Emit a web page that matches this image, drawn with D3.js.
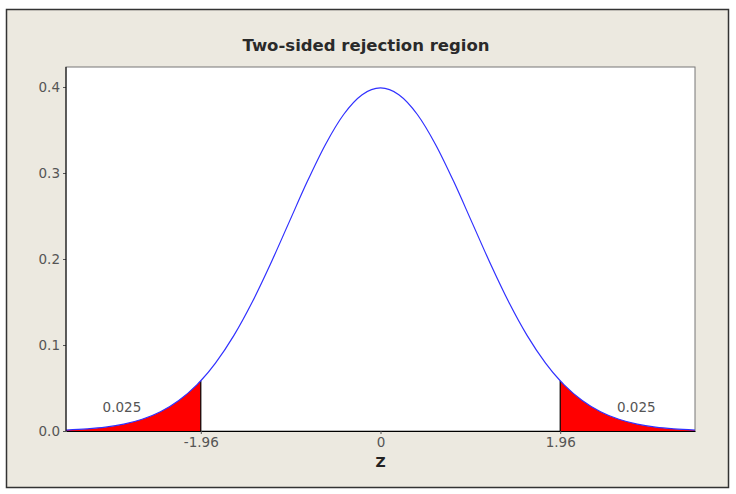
<!DOCTYPE html>
<html>
<head>
<meta charset="utf-8">
<script src="https://cdn.jsdelivr.net/npm/d3@7"></script>
<style>
  body { margin: 0; background: #fff; }
  text { font-family: "DejaVu Sans", sans-serif; }
</style>
</head>
<body>
<script>
// Curve values (z, density)
const zValues = [-3.43, -3.2, -3.0, -2.8, -2.6, -2.4, -2.2, -2.0, -1.96, -1.8, -1.6, -1.4, -1.2, -1.0, -0.8, -0.6, -0.4, -0.2, 0,
                 0.2, 0.4, 0.6, 0.8, 1.0, 1.2, 1.4, 1.6, 1.8, 1.96, 2.0, 2.2, 2.4, 2.6, 2.8, 3.0, 3.2, 3.43];
const densityValues = [0.0011, 0.0024, 0.0044, 0.0079, 0.0136, 0.0224, 0.0355, 0.0540, 0.0584, 0.0790, 0.1109, 0.1497, 0.1942, 0.2420, 0.2897, 0.3332, 0.3683, 0.3910, 0.3989,
                       0.3910, 0.3683, 0.3332, 0.2897, 0.2420, 0.1942, 0.1497, 0.1109, 0.0790, 0.0584, 0.0540, 0.0355, 0.0224, 0.0136, 0.0079, 0.0044, 0.0024, 0.0011];
const criticalValues = [-1.96, 1.96];
const xTickValues = [-1.96, 0, 1.96];
const xTickLabels = ["-1.96", "0", "1.96"];
const yTickValues = [0.0, 0.1, 0.2, 0.3, 0.4];
const tailLabels = [{ z: -2.82, y: 0.028, text: "0.025" }, { z: 2.79, y: 0.028, text: "0.025" }];

const width = 736, height = 494;
const plot = { left: 66, top: 67, right: 695, bottom: 431 };

const svg = d3.select("body").append("svg")
    .attr("width", width)
    .attr("height", height);

// Outer frame
svg.append("rect")
    .attr("x", 6.5).attr("y", 9.5)
    .attr("width", 722).attr("height", 478)
    .attr("fill", "#ece9e0")
    .attr("stroke", "#333")
    .attr("stroke-width", 1.5);

// Plot area
svg.append("rect")
    .attr("x", plot.left).attr("y", plot.top)
    .attr("width", plot.right - plot.left).attr("height", plot.bottom - plot.top)
    .attr("fill", "#fff")
    .attr("stroke", "#777")
    .attr("stroke-width", 1);

const x = d3.scaleLinear().domain([-3.43, 3.43]).range([plot.left, plot.right]);
const y = d3.scaleLinear().domain([0, 0.4]).range([plot.bottom, 87]);

const points = zValues.map((z, i) => ({ z: z, d: densityValues[i] }));

// Red tails
const area = d3.area()
    .x(d => x(d.z))
    .y0(y(0))
    .y1(d => y(d.d))
    .curve(d3.curveMonotoneX);

svg.append("path")
    .datum(points.filter(d => d.z <= criticalValues[0]))
    .attr("d", area)
    .attr("fill", "#ff0000");

svg.append("path")
    .datum(points.filter(d => d.z >= criticalValues[1]))
    .attr("d", area)
    .attr("fill", "#ff0000");

// Critical value lines
svg.selectAll("line.crit")
    .data(criticalValues)
    .enter()
    .append("line")
    .attr("class", "crit")
    .attr("x1", d => x(d)).attr("x2", d => x(d))
    .attr("y1", y(0))
    .attr("y2", d => y(densityValues[zValues.indexOf(d)]))
    .attr("stroke", "#000")
    .attr("stroke-width", 1.2);

// Density curve
const line = d3.line()
    .x(d => x(d.z))
    .y(d => y(d.d))
    .curve(d3.curveMonotoneX);

svg.append("path")
    .datum(points)
    .attr("d", line)
    .attr("fill", "none")
    .attr("stroke", "#3030ff")
    .attr("stroke-width", 1.2);

// Axes
const xAxis = svg.append("g")
    .attr("transform", "translate(0," + plot.bottom + ")")
    .call(d3.axisBottom(x).tickValues(xTickValues).tickFormat((d, i) => xTickLabels[i]).tickSize(3).tickSizeOuter(0));
xAxis.select(".domain").attr("stroke", "#000");

const yAxis = svg.append("g")
    .attr("transform", "translate(" + plot.left + ",0)")
    .call(d3.axisLeft(y).tickValues(yTickValues).tickFormat(d3.format(".1f")).tickSize(3).tickSizeOuter(0));
yAxis.select(".domain").remove();
svg.append("line")
    .attr("x1", plot.left).attr("x2", plot.left)
    .attr("y1", plot.top).attr("y2", plot.bottom)
    .attr("stroke", "#000");

svg.selectAll(".tick text")
    .attr("fill", "#555")
    .style("font-size", "13.5px")
    .style("font-family", "DejaVu Sans, sans-serif");
svg.selectAll(".tick line").attr("stroke", "#555");

// Tail labels
svg.selectAll("text.tail")
    .data(tailLabels)
    .enter()
    .append("text")
    .attr("class", "tail")
    .attr("x", d => x(d.z))
    .attr("y", d => y(d.y))
    .attr("dy", "0.35em")
    .attr("text-anchor", "middle")
    .attr("fill", "#555")
    .style("font-size", "13.5px")
    .text(d => d.text);

// Title and axis label
svg.append("text")
    .attr("x", 366).attr("y", 51)
    .attr("text-anchor", "middle")
    .attr("fill", "#2a2a2a")
    .style("font-size", "16.5px")
    .style("font-weight", "bold")
    .text("Two-sided rejection region");

svg.append("text")
    .attr("x", x(0)).attr("y", 467)
    .attr("text-anchor", "middle")
    .attr("fill", "#222")
    .style("font-size", "14px")
    .style("font-weight", "bold")
    .text("Z");
</script>
</body>
</html>
